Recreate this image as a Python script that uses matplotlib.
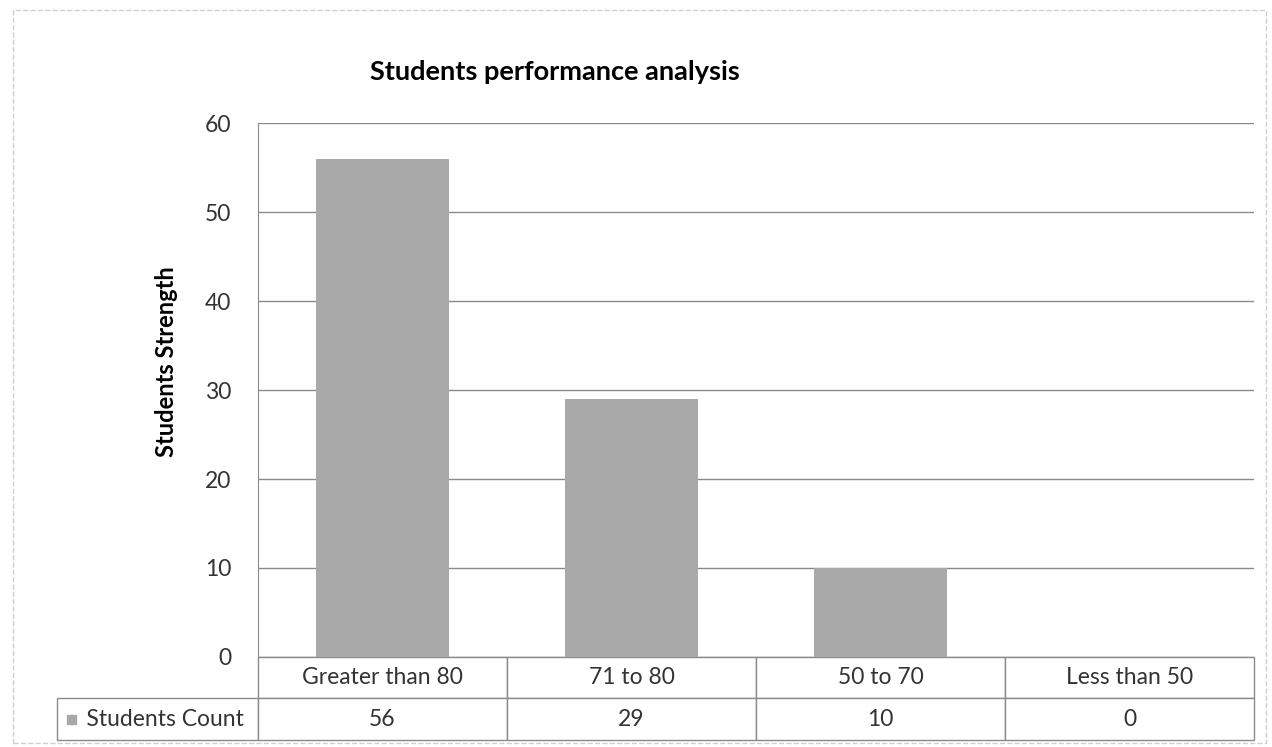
import matplotlib.pyplot as plt
from matplotlib.patches import Rectangle

categories = ["Greater than 80", "71 to 80", "50 to 70", "Less than 50"]
counts = [56, 29, 10, 0]
series_name = "Students Count"
y_ticks = [0, 10, 20, 30, 40, 50, 60]

plt.rcParams['font.family'] = ['Lato', 'DejaVu Sans']
text_col = "#333333"
bar_col = "#a9a9a9"
line_col = "#8a8a8a"

fig = plt.figure(figsize=(12.72, 7.47), dpi=100)
ax = fig.add_axes([0.2028, 0.1205, 0.783, 0.7148])

x = range(len(categories))
ax.bar(x, counts, width=0.535, color=bar_col, zorder=2)
ax.set_xlim(-0.5, len(categories) - 0.5)
ax.set_ylim(0, 60)
ax.set_yticks(y_ticks)
ax.yaxis.grid(True, color=line_col, lw=1.0, zorder=0)
ax.tick_params(axis='y', length=0, labelsize=16.5, labelcolor=text_col, pad=19)
ax.set_xticks([])
for s in ["top", "right", "bottom"]:
    ax.spines[s].set_visible(False)
ax.spines["left"].set_color(line_col)

ax.set_ylabel("Students Strength", fontsize=17, fontweight="bold", color="black")
ax.yaxis.set_label_coords(-0.080, 0.554)
fig.text(0.436, 0.903, "Students performance analysis", ha="center",
         va="center", fontsize=19.5, fontweight="bold", color="black")

# data table under the bars
cell_text = [["     " + series_name] + [str(c) for c in counts]]
col_labels = [""] + categories
label_w = 201 / 996
cat_w = 249 / 996
tbl = ax.table(cellText=cell_text, colLabels=col_labels,
               colWidths=[label_w] + [cat_w] * len(categories),
               cellLoc="center",
               bbox=[-label_w, -0.1554, 1 + label_w, 0.1554])
tbl.auto_set_font_size(False)
tbl.set_fontsize(16.5)
for (r, c), cell in tbl.get_celld().items():
    cell.set_edgecolor(line_col)
    cell.set_linewidth(1.0)
    cell.get_text().set_color(text_col)
    if r == 0 and c == 0:
        cell.visible_edges = ""
    elif r == 1 and c == 0:
        cell.get_text().set_ha("left")
        cell.PAD = 0.0

# legend key square in the table's row label
fig.patches.append(Rectangle((67 / 1272, 1 - 724 / 747), 9 / 1272, 9 / 747,
                             transform=fig.transFigure, color=bar_col))

# faint outer frame of the chart
fig.patches.append(Rectangle((0.01, 0.006), 0.985, 0.98, transform=fig.transFigure,
                             fill=False, edgecolor="#cfcfcf", lw=1, ls="--"))

fig.savefig("out.png", dpi=100)
